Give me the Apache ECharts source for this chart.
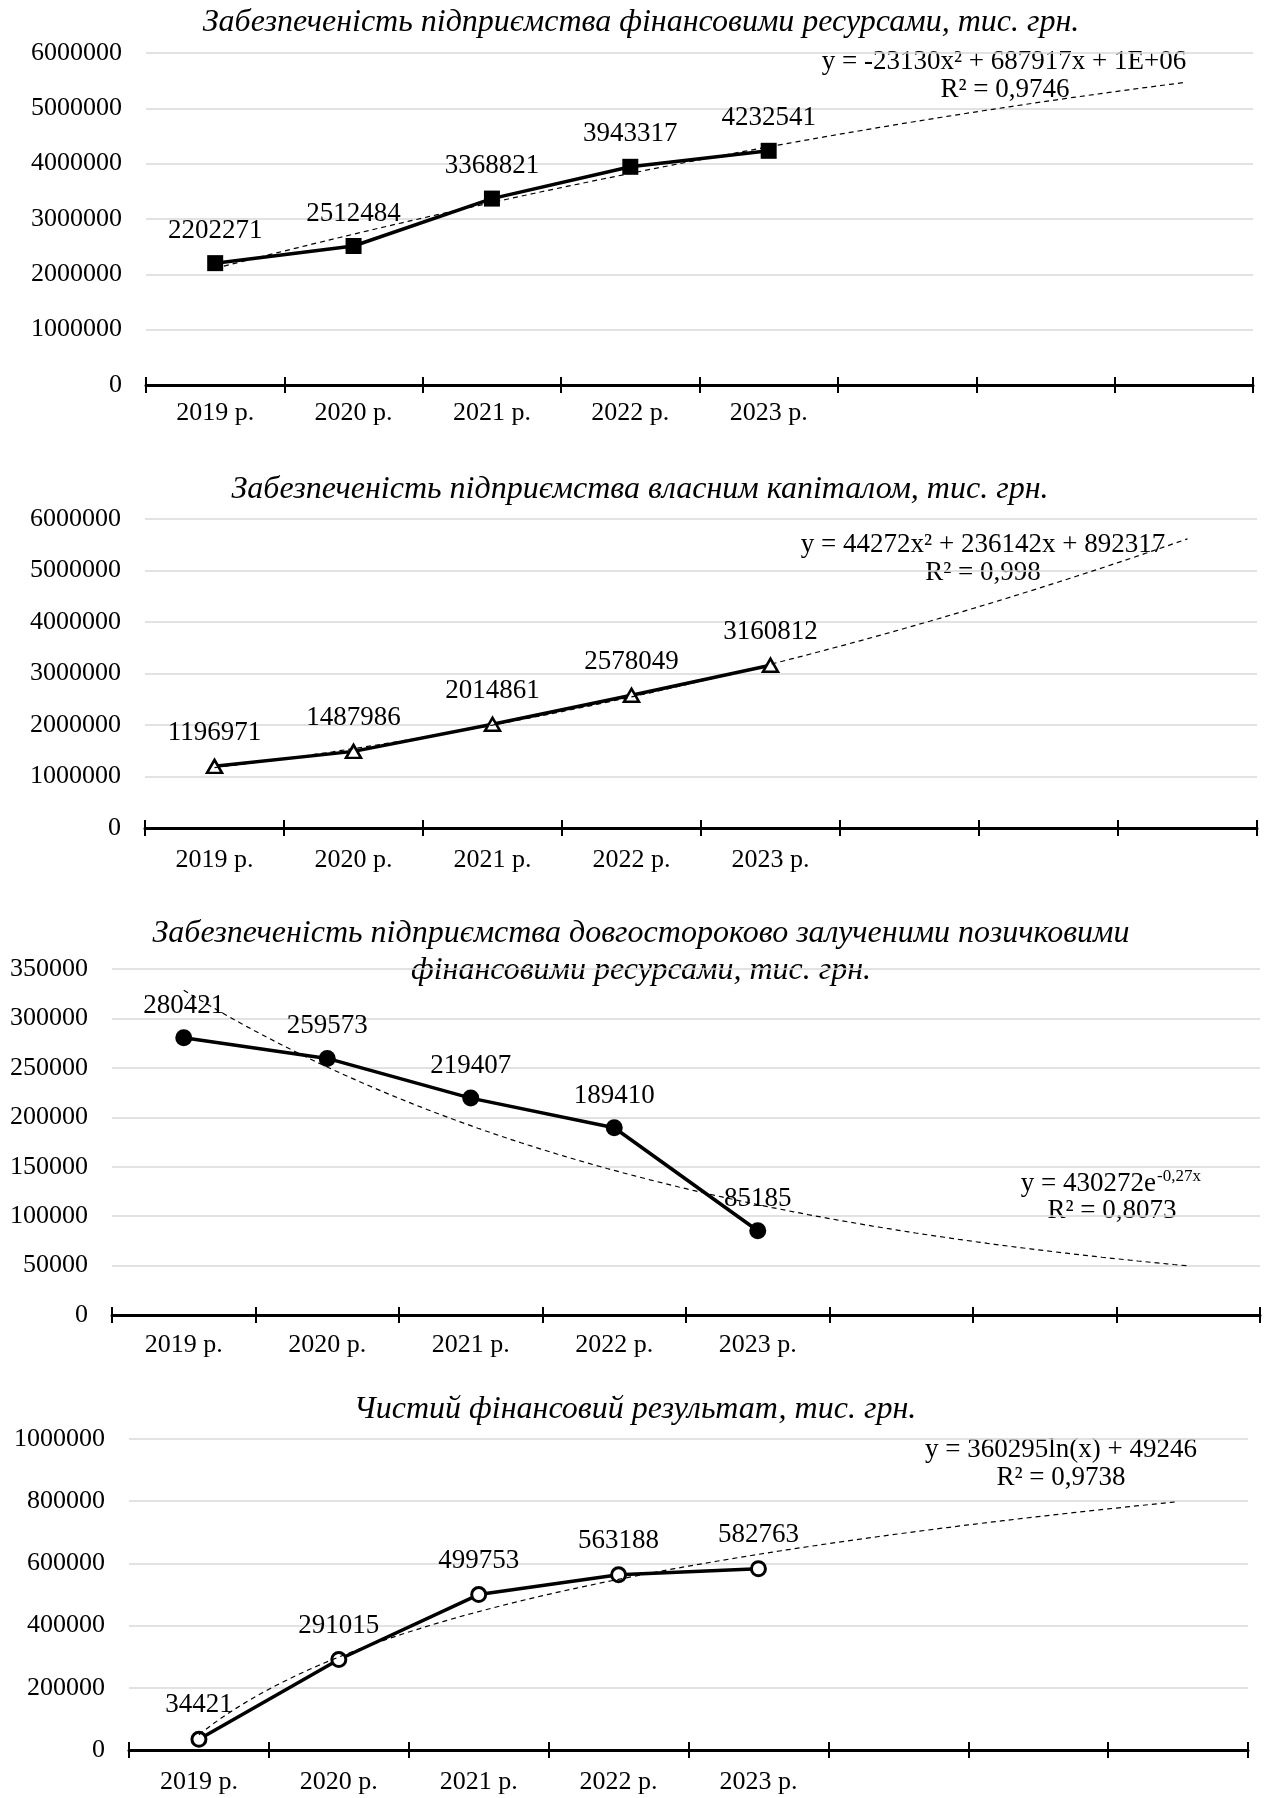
<!DOCTYPE html>
<html>
<head>
<meta charset="utf-8">
<script src="https://cdn.jsdelivr.net/npm/echarts@6/dist/echarts.min.js"></script>
<style>
  html, body { margin: 0; padding: 0; background: #fff; }
  #chart { width: 1267px; height: 1798px; }
</style>
</head>
<body>
<div id="chart"></div>
<script>
// Categories (three empty slots leave room for the forecast part of each trend line)
const categories = ['2019 р.', '2020 р.', '2021 р.', '2022 р.', '2023 р.', '', '', ''];

// Series values, тис. грн.
const financialResources = [2202271, 2512484, 3368821, 3943317, 4232541];
const equityCapital = [1196971, 1487986, 2014861, 2578049, 3160812];
const longTermLoans = [280421, 259573, 219407, 189410, 85185];
const netResult = [34421, 291015, 499753, 563188, 582763];

// Value-axis ticks
const ticksResources = [0, 1000000, 2000000, 3000000, 4000000, 5000000, 6000000];
const ticksEquity = [0, 1000000, 2000000, 3000000, 4000000, 5000000, 6000000];
const ticksLoans = [0, 50000, 100000, 150000, 200000, 250000, 300000, 350000];
const ticksResult = [0, 200000, 400000, 600000, 800000, 1000000];

// Titles
const titles = [
  'Забезпеченість підприємства фінансовими ресурсами, тис. грн.',
  'Забезпеченість підприємства власним капіталом, тис. грн.',
  'Забезпеченість підприємства довгостороково залученими позичковими\nфінансовими ресурсами, тис. грн.',
  'Чистий фінансовий результат, тис. грн.'
];

// Trend line equations and R² texts
const equations = [
  'y = -23130x² + 687917x + 1E+06',
  'y = 44272x² + 236142x + 892317',
  'y = 430272e',
  'y = 360295ln(x) + 49246'
];
const expPower = '-0,27x';
const rSquared = ['R² = 0,9746', 'R² = 0,998', 'R² = 0,8073', 'R² = 0,9738'];

const FONT = '"Liberation Serif", "Times New Roman", serif';
const FORECAST_END = 8;

// ---- least-squares trend fits (x = 1..n) ----
function solve3(A, b) {
  const M = A.map((r, i) => r.concat([b[i]]));
  for (let c = 0; c < 3; c++) {
    let p = c;
    for (let r = c + 1; r < 3; r++) if (Math.abs(M[r][c]) > Math.abs(M[p][c])) p = r;
    [M[c], M[p]] = [M[p], M[c]];
    for (let r = 0; r < 3; r++) {
      if (r === c) continue;
      const f = M[r][c] / M[c][c];
      for (let k = c; k < 4; k++) M[r][k] -= f * M[c][k];
    }
  }
  return [M[0][3] / M[0][0], M[1][3] / M[1][1], M[2][3] / M[2][2]];
}
function polyFit2(ys) {
  const S = [[0, 0, 0], [0, 0, 0], [0, 0, 0]], T = [0, 0, 0];
  ys.forEach((y, i) => {
    const x = i + 1, v = [x * x, x, 1];
    for (let r = 0; r < 3; r++) {
      T[r] += v[r] * y;
      for (let c = 0; c < 3; c++) S[r][c] += v[r] * v[c];
    }
  });
  const [a, b, c] = solve3(S, T);
  return x => a * x * x + b * x + c;
}
function linFit(xs, ys) {
  const n = xs.length;
  const mx = xs.reduce((s, v) => s + v, 0) / n, my = ys.reduce((s, v) => s + v, 0) / n;
  let sxy = 0, sxx = 0;
  xs.forEach((x, i) => { sxy += (x - mx) * (ys[i] - my); sxx += (x - mx) * (x - mx); });
  const k = sxy / sxx;
  return [k, my - k * mx];
}
function expFit(ys) {
  const [k, b] = linFit(ys.map((_, i) => i + 1), ys.map(Math.log));
  return x => Math.exp(b + k * x);
}
function logFit(ys) {
  const [k, b] = linFit(ys.map((_, i) => Math.log(i + 1)), ys);
  return x => k * Math.log(x) + b;
}
function trendPoints(f) {
  const pts = [];
  for (let s = 0; s <= (FORECAST_END - 1) * 20; s++) {
    const x = 1 + s / 20;
    pts.push([x, f(x)]);
  }
  return pts;
}

// ---- per-panel settings ----
const panels = [
  { values: financialResources, ticks: ticksResources, fit: polyFit2(financialResources),
    grid: { left: 146, top: 53, width: 1107, height: 332 }, labelMargin: 15,
    symbol: 'rect', symbolSize: 16, fill: '#000', border: 0, labelDist: 11 },
  { values: equityCapital, ticks: ticksEquity, fit: polyFit2(equityCapital),
    grid: { left: 145, top: 519, width: 1112, height: 309 }, labelMargin: 19,
    symbol: 'triangle', symbolSize: [15, 13], fill: '#fff', border: 2.5, labelDist: 12 },
  { values: longTermLoans, ticks: ticksLoans, fit: expFit(longTermLoans),
    grid: { left: 112, top: 969, width: 1148, height: 346 }, labelMargin: 17,
    symbol: 'circle', symbolSize: 17, fill: '#000', border: 0, labelDist: 10 },
  { values: netResult, ticks: ticksResult, fit: logFit(netResult),
    grid: { left: 129, top: 1439, width: 1119, height: 311 }, labelMargin: 19,
    symbol: 'circle', symbolSize: 14, fill: '#fff', border: 3, labelDist: 12 }
];

const grid = [], xAxis = [], yAxis = [], series = [];
panels.forEach((p, i) => {
  grid.push(Object.assign({ containLabel: false }, p.grid));
  // category axis: labels + ticks below the line
  xAxis.push({
    gridIndex: i, type: 'category', data: categories, boundaryGap: true, position: 'bottom',
    axisLine: { show: true, lineStyle: { color: '#000', width: 3 } },
    axisTick: { show: true, interval: 0, inside: false, length: 8, lineStyle: { color: '#000', width: 2 } },
    axisLabel: { interval: 0, margin: p.labelMargin, fontFamily: FONT, fontSize: 26, color: '#000' },
    splitLine: { show: false }
  });
  // same axis again: ticks above the line (cross tick marks)
  xAxis.push({
    gridIndex: i, type: 'category', data: categories, boundaryGap: true, position: 'bottom',
    axisLine: { show: false },
    axisTick: { show: true, interval: 0, inside: true, length: 8, lineStyle: { color: '#000', width: 2 } },
    axisLabel: { show: false }, splitLine: { show: false }
  });
  // continuous x for the trend line: category centres sit at 1..8
  xAxis.push({ gridIndex: i, type: 'value', min: 0.5, max: 8.5, show: false });

  yAxis.push({
    gridIndex: i, type: 'value',
    min: p.ticks[0], max: p.ticks[p.ticks.length - 1], interval: p.ticks[1] - p.ticks[0],
    axisLine: { show: false }, axisTick: { show: false },
    axisLabel: { margin: 24, fontFamily: FONT, fontSize: 26, color: '#000', formatter: v => String(v) },
    splitLine: { show: true, lineStyle: { color: '#d9d9d9', width: 1.5 } }
  });

  series.push({
    type: 'line', xAxisIndex: i * 3, yAxisIndex: i, data: p.values,
    symbol: p.symbol, symbolSize: p.symbolSize, showAllSymbol: true,
    lineStyle: { color: '#000', width: 3.5 },
    itemStyle: { color: p.fill, borderColor: '#000', borderWidth: p.border, opacity: 1 },
    label: { show: true, position: 'top', distance: p.labelDist, fontFamily: FONT, fontSize: 27, color: '#000' },
    z: 3
  });
  series.push({
    type: 'line', xAxisIndex: i * 3 + 2, yAxisIndex: i, data: trendPoints(p.fit),
    symbol: 'none', showSymbol: false, silent: true,
    lineStyle: { color: '#000', width: 1.2, type: [5, 4] },
    z: 4
  });
});

function txt(x, y, text, opts) {
  return {
    type: 'text', x: x, y: y, silent: true,
    style: Object.assign({
      text: text, fontFamily: FONT, fontSize: 27, fill: '#000',
      align: 'center', verticalAlign: 'middle', textAlign: 'center', textVerticalAlign: 'middle'
    }, opts || {})
  };
}

const graphic = [
  // titles
  txt(641, 23, titles[0], { fontStyle: 'italic', fontSize: 32 }),
  txt(640, 490, titles[1], { fontStyle: 'italic', fontSize: 32 }),
  txt(641, 952, titles[2], { fontStyle: 'italic', fontSize: 32, lineHeight: 37 }),
  txt(635, 1410, titles[3], { fontStyle: 'italic', fontSize: 32 }),
  // trend equations
  txt(1004, 62, equations[0]),
  txt(1005, 90, rSquared[0]),
  txt(983, 545, equations[1]),
  txt(983, 573, rSquared[1]),
  txt(1156, 1184, equations[2], { align: 'right', textAlign: 'right' }),
  txt(1157, 1177, expPower, { fontSize: 17, align: 'left', textAlign: 'left' }),
  txt(1112, 1211, rSquared[2]),
  txt(1061, 1450, equations[3]),
  txt(1061, 1478, rSquared[3])
];

const chart = echarts.init(document.getElementById('chart'), null, { renderer: 'canvas' });
chart.setOption({
  backgroundColor: '#fff',
  animation: false,
  grid: grid,
  xAxis: xAxis,
  yAxis: yAxis,
  series: series,
  graphic: graphic
});
</script>
</body>
</html>
